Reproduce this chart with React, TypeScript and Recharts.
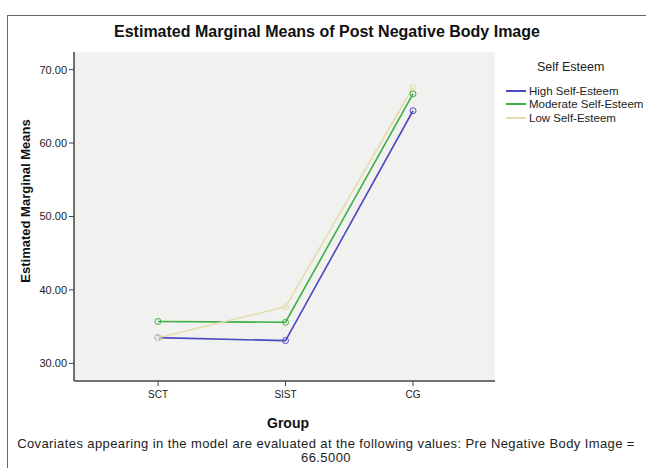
import React from 'react';
import { CartesianGrid, Line, LineChart, XAxis, YAxis } from 'recharts';

const groups = ['SCT', 'SIST', 'CG'];
const highSelfEsteem = [33.5, 33.1, 64.4];
const moderateSelfEsteem = [35.7, 35.6, 66.7];
const lowSelfEsteem = [33.5, 37.7, 67.6];
const yTicks = [30, 40, 50, 60, 70];

const seriesList = [
  { key: 'high', name: 'High Self-Esteem', color: '#4a48c4' },
  { key: 'moderate', name: 'Moderate Self-Esteem', color: '#3cb043' },
  { key: 'low', name: 'Low Self-Esteem', color: '#e6dcae' },
];

const data = groups.map((group, i) => ({
  group,
  high: highSelfEsteem[i],
  moderate: moderateSelfEsteem[i],
  low: lowSelfEsteem[i],
}));

const font = '"Liberation Sans", Arial, sans-serif';

export default function App() {
  return (
    <div
      style={{
        position: 'absolute',
        left: 0,
        top: 0,
        width: 646,
        height: 468,
        background: '#fff',
        fontFamily: font,
        color: '#222',
        overflow: 'hidden',
      }}
    >
      {/* outer frame */}
      <div
        style={{
          position: 'absolute',
          left: 7,
          top: 15,
          width: 660,
          height: 470,
          borderLeft: '1.5px solid #666',
          borderTop: '1.5px solid #666',
        }}
      />
      <LineChart
        width={646}
        height={468}
        data={data}
        margin={{ top: 52, right: 151, bottom: 57, left: 14 }}
        style={{ position: 'absolute', left: 0, top: 0 }}
      >
        <CartesianGrid horizontal={false} vertical={false} fill="#f1f1ef" />
        <XAxis
          dataKey="group"
          height={30}
          padding={{ left: 84, right: 82 }}
          axisLine={{ stroke: '#444', strokeWidth: 1.5 }}
          tickLine={{ stroke: '#444' }}
          tickSize={5}
          tickMargin={5}
          tick={{ fontSize: 10, fill: '#222', fontFamily: font }}
        />
        <XAxis
          xAxisId="top"
          orientation="top"
          dataKey="group"
          height={0}
          tick={false}
          tickLine={false}
          axisLine={{ stroke: '#444', strokeWidth: 1.5 }}
        />
        <YAxis
          width={60}
          domain={[27.6, 72.4]}
          ticks={yTicks}
          allowDataOverflow
          tickFormatter={(v: number) => v.toFixed(2)}
          axisLine={{ stroke: '#444', strokeWidth: 1.5 }}
          tickLine={{ stroke: '#444' }}
          tickSize={5}
          tickMargin={2}
          tick={{ fontSize: 11, fill: '#222', fontFamily: font }}
        />
        <YAxis
          yAxisId="right"
          orientation="right"
          width={0}
          tick={false}
          tickLine={false}
          axisLine={{ stroke: '#444', strokeWidth: 1.5 }}
        />
        {seriesList.map((s) => (
          <Line
            key={s.key}
            type="linear"
            dataKey={s.key}
            name={s.name}
            stroke={s.color}
            strokeWidth={1.6}
            dot={{ r: 3, stroke: s.color, strokeWidth: 1, fill: 'none' }}
            isAnimationActive={false}
          />
        ))}
      </LineChart>

      {/* title */}
      <div
        style={{
          position: 'absolute',
          left: 0,
          width: 654,
          top: 23,
          textAlign: 'center',
          fontSize: 16,
          fontWeight: 'bold',
          color: '#111',
        }}
      >
        Estimated Marginal Means of Post Negative Body Image
      </div>

      {/* y axis label */}
      <div
        style={{
          position: 'absolute',
          left: 25,
          top: 201,
          transform: 'translate(-50%, -50%) rotate(-90deg)',
          whiteSpace: 'nowrap',
          fontSize: 13,
          fontWeight: 'bold',
          color: '#111',
        }}
      >
        Estimated Marginal Means
      </div>

      {/* x axis label */}
      <div
        style={{
          position: 'absolute',
          left: 288,
          top: 423,
          transform: 'translate(-50%, -50%)',
          fontSize: 14,
          fontWeight: 'bold',
          color: '#111',
        }}
      >
        Group
      </div>

      {/* legend */}
      <div
        style={{
          position: 'absolute',
          left: 537,
          top: 60,
          fontSize: 12.5,
          color: '#222',
          whiteSpace: 'nowrap',
        }}
      >
        Self Esteem
      </div>
      {seriesList.map((s, i) => (
        <div
          key={s.key}
          style={{
            position: 'absolute',
            left: 506,
            top: 84 + i * 13.5,
            height: 13,
            display: 'flex',
            alignItems: 'center',
            whiteSpace: 'nowrap',
            fontSize: 11.5,
            color: '#222',
          }}
        >
          <span
            style={{
              display: 'inline-block',
              width: 20,
              height: 2,
              background: s.color,
              marginRight: 3,
            }}
          />
          {s.name}
        </div>
      ))}

      {/* footnote */}
      <div
        style={{
          position: 'absolute',
          left: 0,
          width: 652,
          top: 437,
          textAlign: 'center',
          fontSize: 13,
          letterSpacing: 0.4,
          lineHeight: '14px',
          color: '#222',
          whiteSpace: 'nowrap',
        }}
      >
        Covariates appearing in the model are evaluated at the following values: Pre Negative Body Image =
        <br />
        66.5000
      </div>
    </div>
  );
}
